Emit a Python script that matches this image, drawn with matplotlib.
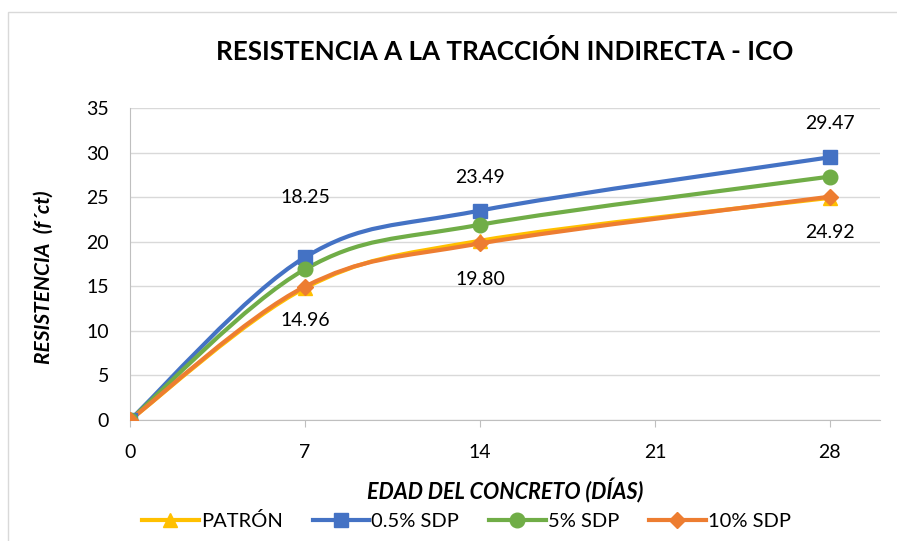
import numpy as np
import matplotlib.pyplot as plt
from matplotlib.path import Path
from matplotlib.patches import PathPatch, Rectangle
from matplotlib.lines import Line2D

plt.rcParams['font.family'] = ['Lato', 'DejaVu Sans']

dias = [0, 7, 14, 28]
patron = [0.0, 14.80, 20.10, 24.92]
sdp_05 = [0.0, 18.25, 23.49, 29.47]
sdp_5 = [0.0, 16.90, 21.90, 27.30]
sdp_10 = [0.0, 14.96, 19.80, 25.05]

series = [
    ('PATRÓN', patron, '#FFC000', '^', 10),
    ('0.5% SDP', sdp_05, '#4472C4', 's', 10.5),
    ('5% SDP', sdp_5, '#70AD47', 'o', 10.5),
    ('10% SDP', sdp_10, '#ED7D31', 'D', 8),
]

# (serie, punto, desplazamiento en px)
etiquetas = [
    (sdp_05, 1, 60), (sdp_05, 2, 33), (sdp_05, 3, 34),
    (sdp_10, 1, -34), (sdp_10, 2, -36), (patron, 3, -35),
]


def smooth_path(x, y):
    # curva suavizada tipo Excel (Catmull-Rom -> Bezier cubica)
    pts = np.column_stack([x, y]).astype(float)
    verts = [pts[0]]
    codes = [Path.MOVETO]
    n = len(pts)
    for i in range(n - 1):
        p0 = pts[i - 1] if i > 0 else pts[i]
        p1, p2 = pts[i], pts[i + 1]
        p3 = pts[i + 2] if i + 2 < n else pts[i + 1]
        verts += [p1 + (p2 - p0) / 6, p2 - (p3 - p1) / 6, p2]
        codes += [Path.CURVE4] * 3
    return Path(verts, codes)


fig = plt.figure(figsize=(8.97, 5.41), dpi=100)
ax = fig.add_axes([0.1449, 0.2237, 0.836, 0.5767])

fig.patches.append(Rectangle((8 / 897, -0.01), 1.0, 0.988, transform=fig.transFigure,
                             fill=False, edgecolor='#D9D9D9', linewidth=1))

handles = []
for nombre, vals, color, mk, ms in series:
    ax.add_patch(PathPatch(smooth_path(dias, vals), fill=False, edgecolor=color,
                           linewidth=3, capstyle='round', zorder=3))
    ax.plot(dias, vals, linestyle='none', marker=mk, markersize=ms, color=color, zorder=4)
    handles.append(Line2D([], [], color=color, linewidth=3, marker=mk, markersize=ms))

for vals, i, off in etiquetas:
    ax.annotate(f'{vals[i]:.2f}', (dias[i], vals[i]), xytext=(0, off * 0.72),
                textcoords='offset points', ha='center', va='center', fontsize=14,
                color='#000000', zorder=5)

ax.set_xlim(0, 30)
ax.set_ylim(0, 35)
ax.set_xticks([0, 7, 14, 21, 28])
ax.set_yticks(range(0, 36, 5))
ax.grid(axis='y', color='#D9D9D9', linewidth=1)
ax.set_axisbelow(True)
for s in ['top', 'right']:
    ax.spines[s].set_visible(False)
ax.spines['left'].set_color('#BFBFBF')
ax.spines['bottom'].set_color('#BFBFBF')
ax.tick_params(axis='x', length=5, color='#BFBFBF', labelsize=14, pad=12)
ax.tick_params(axis='y', length=0, labelsize=14, pad=15)

ax.set_xlabel('EDAD DEL CONCRETO (DÍAS)', fontsize=15.5, fontweight='bold',
              fontstyle='italic', va='center')
ax.xaxis.set_label_coords(0.5, -0.2276)
ax.set_ylabel('RESISTENCIA  (f´ct)', fontsize=15, fontweight='bold',
              fontstyle='italic', va='center')
ax.yaxis.set_label_coords(-0.115, 0.458)

fig.text(0.563, 0.904, 'RESISTENCIA A LA TRACCIÓN INDIRECTA - ICO', ha='center',
         va='center', fontsize=18.7, fontweight='bold')

fig.legend(handles, [s[0] for s in series], loc='center', bbox_to_anchor=(0.52, 0.037),
           ncol=4, frameon=False, fontsize=14.5, handlelength=2.8, columnspacing=1.5,
           handletextpad=0.1)

fig.savefig('out.png', dpi=100)
